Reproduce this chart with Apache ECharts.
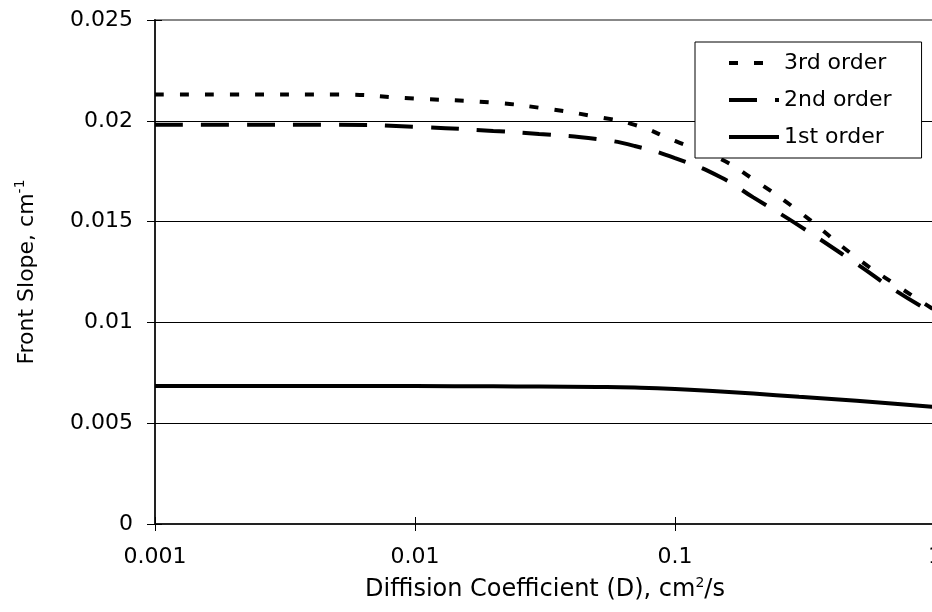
<!DOCTYPE html>
<html>
<head>
<meta charset="utf-8">
<script src="https://cdn.jsdelivr.net/npm/echarts@6/dist/echarts.min.js"></script>
<style>
    html, body { margin: 0; padding: 0; background: #fff; overflow: hidden; }
    /* 画布比窗口宽, 右边界被裁掉 */
    #chart { width: 945px; height: 612px; }
</style>
</head>
<body>
<div id="chart"></div>
<script>
// 扩散系数 D (cm2/s)
var dValues = [0.001, 0.002, 0.005, 0.01, 0.02, 0.03, 0.05, 0.07, 0.1, 0.15, 0.2, 0.3, 0.5, 0.7, 1];
// front slope, cm-1
var thirdOrder = [0.0213, 0.0213, 0.0213, 0.0211, 0.0209, 0.02065, 0.0202, 0.0198, 0.0190, 0.0181, 0.0171, 0.0155, 0.0132, 0.0119, 0.0106];
var secondOrder = [0.0198, 0.0198, 0.0198, 0.0197, 0.0195, 0.01935, 0.0191, 0.01875, 0.01815, 0.0172, 0.0162, 0.0148, 0.0129, 0.0116, 0.0104];
var firstOrder = [0.00685, 0.00685, 0.00685, 0.00684, 0.00683, 0.00682, 0.0068, 0.00677, 0.0067, 0.00657, 0.00647, 0.00631, 0.00611, 0.00597, 0.0058];
var seriesNames = ['3rd order', '2nd order', '1st order'];

var font = 'DejaVu Sans';

function pairs(ys) {
    var arr = [];
    for (var i = 0; i < dValues.length; i++) {
        arr.push([dValues[i], ys[i]]);
    }
    return arr;
}

var supStyle = { fontSize: 14, fontFamily: font, color: '#000', verticalAlign: 'bottom', padding: [0, 0, 14, 0] };

var myChart = echarts.init(document.getElementById('chart'));
var option = {
    animation: false,
    backgroundColor: '#fff',
    grid: {
        left: 155, right: 10, top: 20, bottom: 88,
        show: true, borderColor: '#888', borderWidth: 2, backgroundColor: 'transparent'
    },
    legend: {
        data: seriesNames,
        orient: 'vertical',
        left: 695, top: 42,
        padding: [10, 30, 10, 32],
        itemWidth: 50, itemHeight: 14, itemGap: 15,
        itemStyle: { opacity: 0 },
        lineStyle: { width: 4 },
        backgroundColor: '#fff', borderColor: '#000', borderWidth: 1,
        textStyle: { fontSize: 22, fontFamily: font, color: '#000' }
    },
    xAxis: [{
        type: 'log', logBase: 10, min: 0.001, max: 1,
        position: 'bottom',
        name: 'Diffision Coefficient (D), cm{sup|2}/s',
        nameLocation: 'middle', nameGap: 52,
        nameTextStyle: { fontSize: 24, fontFamily: font, color: '#000', rich: { sup: supStyle } },
        axisLine: { lineStyle: { color: '#222', width: 2 } },
        axisTick: { show: true, length: 7, lineStyle: { color: '#000', width: 1 } },
        axisLabel: {
            fontSize: 22, fontFamily: font, color: '#000', margin: 22,
            formatter: function(v) { return String(+v.toPrecision(1)); }
        },
        splitLine: { show: false },
        minorTick: { show: false }
    }, {
        // 刻度线穿过坐标轴
        type: 'log', logBase: 10, min: 0.001, max: 1,
        position: 'bottom',
        axisLine: { show: false },
        axisTick: { show: true, inside: true, length: 7, lineStyle: { color: '#000', width: 1 } },
        axisLabel: { show: false },
        splitLine: { show: false }
    }],
    yAxis: [{
        type: 'value', min: 0, max: 0.025, interval: 0.005,
        position: 'left',
        name: 'Front Slope, cm{sup|-1}',
        nameLocation: 'middle', nameGap: 114,
        nameTextStyle: { fontSize: 22, fontFamily: font, color: '#000', rich: { sup: supStyle } },
        axisLine: { show: true, lineStyle: { color: '#222', width: 2 } },
        axisTick: { show: true, length: 8, lineStyle: { color: '#000', width: 1 } },
        axisLabel: {
            fontSize: 22, fontFamily: font, color: '#000', margin: 22,
            formatter: function(v) { return String(+v.toFixed(3)); }
        },
        splitLine: {
            show: true,
            lineStyle: { color: ['rgba(0,0,0,0)', '#000', '#000', '#000', '#000', '#888'], width: 1 }
        }
    }, {
        type: 'value', min: 0, max: 0.025, interval: 0.005,
        position: 'left',
        axisLine: { show: false },
        axisTick: { show: true, inside: true, length: 7, lineStyle: { color: '#000', width: 1 } },
        axisLabel: { show: false },
        splitLine: { show: false }
    }],
    series: [{
        name: seriesNames[0],
        type: 'line', smooth: 0.5, symbol: 'none',
        data: pairs(thirdOrder),
        itemStyle: { color: '#000' },
        lineStyle: { color: '#000', width: 4, type: [9, 16], cap: 'butt' }
    }, {
        name: seriesNames[1],
        type: 'line', smooth: 0.5, symbol: 'none',
        data: pairs(secondOrder),
        itemStyle: { color: '#000' },
        lineStyle: { color: '#000', width: 4, type: [28, 18], cap: 'butt' }
    }, {
        name: seriesNames[2],
        type: 'line', smooth: 0.5, symbol: 'none',
        data: pairs(firstOrder),
        itemStyle: { color: '#000' },
        lineStyle: { color: '#000', width: 4, type: 'solid' }
    }]
};
myChart.setOption(option);
</script>
</body>
</html>
